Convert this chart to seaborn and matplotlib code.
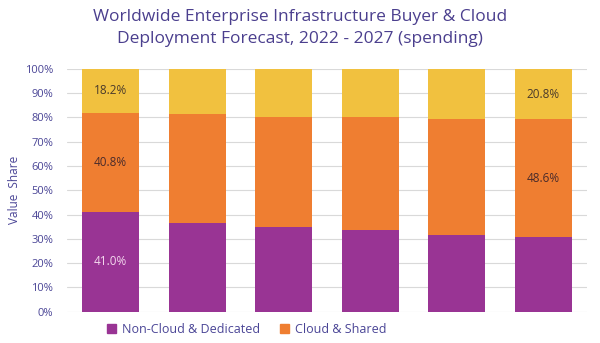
import matplotlib
matplotlib.use("Agg")
import matplotlib.pyplot as plt
import seaborn as sns
import pandas as pd
from matplotlib.patches import Patch

years = ["2022", "2023", "2024", "2025", "2026", "2027"]
non_cloud = [41.0, 36.4, 35.0, 33.7, 31.6, 30.6]
cloud_shared = [40.8, 44.9, 45.2, 46.4, 47.8, 48.6]
cloud_dedicated = [18.2, 18.7, 19.8, 19.9, 20.6, 20.8]
y_ticks = [0, 10, 20, 30, 40, 50, 60, 70, 80, 90, 100]

sns.set_theme(style="white")
plt.rcParams['font.family'] = ['Open Sans', 'DejaVu Sans']

purple = "#993494"
orange = "#EF7E31"
yellow = "#F1C13F"
text_col = "#4A4596"

df = pd.DataFrame({
    "year": years,
    "non": non_cloud,
    "shared": cloud_shared,
    "ded": cloud_dedicated,
})
df["lvl2"] = df["non"] + df["shared"]
df["lvl3"] = df["lvl2"] + df["ded"]

fig = plt.figure(figsize=(6.0, 3.43), dpi=100)
ax = fig.add_axes([0.112, 0.0913, 0.866, 0.708])

for col, c in [("lvl3", yellow), ("lvl2", orange), ("non", purple)]:
    sns.barplot(data=df, x="year", y=col, color=c, saturation=1, width=0.66,
                ax=ax, zorder=2, linewidth=0)

ax.set_ylim(0, 100)
ax.set_xlim(-0.5, len(years) - 0.5)
ax.set_yticks(y_ticks)
ax.set_yticklabels([f"{t}%" for t in y_ticks], color=text_col, fontsize=8)
ax.tick_params(axis="y", length=0, pad=10)
ax.set_xticks([])
ax.set_xlabel("")
ax.set_ylabel("Value  Share", color=text_col, fontsize=8.5, labelpad=3)
ax.grid(axis="y", color="#D9D9D9", linewidth=0.8, zorder=0)
for s in ax.spines.values():
    s.set_visible(False)

# value labels on first and last bars
for i in [0, len(years) - 1]:
    n, s, d = non_cloud[i], cloud_shared[i], cloud_dedicated[i]
    if i == 0:
        ax.text(i, n / 2, f"{n:.1f}%", ha="center", va="center",
                fontsize=8.5, color="#F4D9EE", zorder=3)
    ax.text(i, n + s / 2, f"{s:.1f}%", ha="center", va="center",
            fontsize=8.5, color="#4A2B2B", zorder=3)
    ax.text(i, n + s + d / 2, f"{d:.1f}%", ha="center", va="center",
            fontsize=8.5, color="#4A3A2B", zorder=3)

fig.text(0.5, 0.975, "Worldwide Enterprise Infrastructure Buyer & Cloud\nDeployment Forecast, 2022 - 2027 (spending)",
         ha="center", va="top", fontsize=12.5, color="#4B3F8E", linespacing=1.5)

handles = [Patch(color=purple, label="Non-Cloud & Dedicated"),
           Patch(color=orange, label="Cloud & Shared")]
leg = fig.legend(handles=handles, loc="center left", bbox_to_anchor=(0.16, 0.04),
                 ncol=2, frameon=False, fontsize=9, handlelength=0.7, handleheight=0.7,
                 handletextpad=0.5, columnspacing=1.6)
for t in leg.get_texts():
    t.set_color(text_col)

fig.savefig("out.png", dpi=100)
